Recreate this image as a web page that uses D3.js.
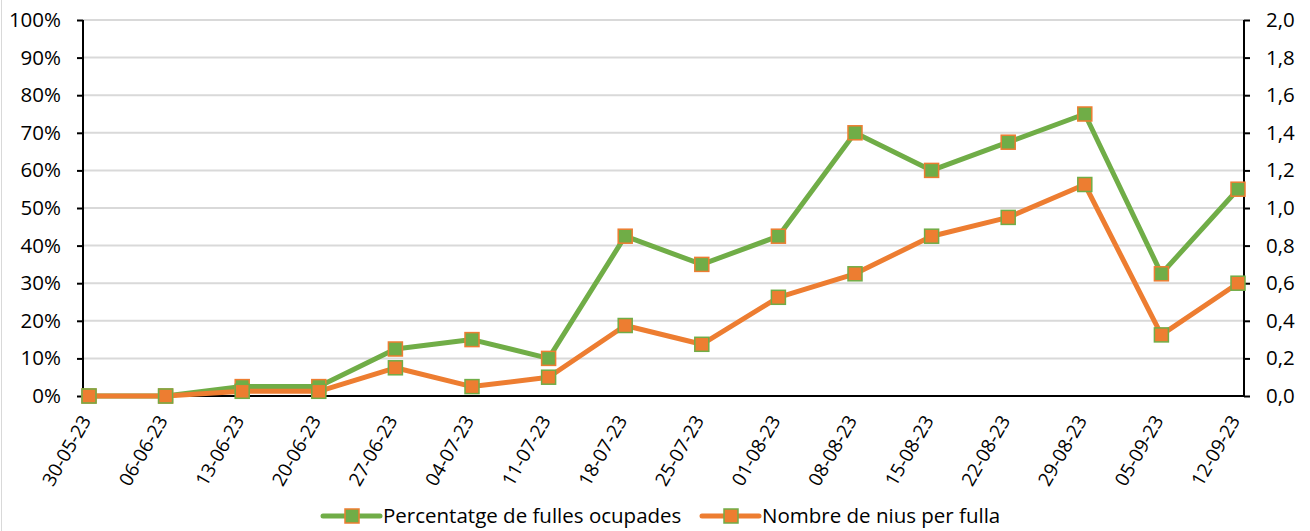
<!DOCTYPE html>
<html>
<head>
<meta charset="utf-8">
<script src="https://cdn.jsdelivr.net/npm/d3@7"></script>
<style>
  body { margin: 0; background: #fff; }
  svg text { font-family: "Open Sans", "Noto Sans", sans-serif; fill: #000; }
</style>
</head>
<body>
<svg id="chart"></svg>
<script>
const dates = ['30-05-23','06-06-23','13-06-23','20-06-23','27-06-23','04-07-23','11-07-23','18-07-23',
  '25-07-23','01-08-23','08-08-23','15-08-23','22-08-23','29-08-23','05-09-23','12-09-23'];
const pctOccupied = [0, 0, 0.025, 0.025, 0.125, 0.15, 0.10, 0.425, 0.35, 0.425, 0.70, 0.60, 0.675, 0.75, 0.325, 0.55];
const nestsPerLeaf = [0, 0, 0.025, 0.025, 0.15, 0.05, 0.10, 0.375, 0.275, 0.525, 0.65, 0.85, 0.95, 1.125, 0.325, 0.60];
const leftTicks = d3.range(0, 1.0001, 0.1);
const rightTicks = d3.range(0, 2.0001, 0.2);
const seriesNames = ['Percentatge de fulles ocupades', 'Nombre de nius per fulla'];

const width = 1310;
const height = 531;
const green = '#70ad47';
const orange = '#ed7d31';

const svg = d3.select('#chart')
  .attr('width', width)
  .attr('height', height);

// light frame on the left like the excel export
svg.append('line')
  .attr('x1', 1.5).attr('x2', 1.5)
  .attr('y1', 0).attr('y2', height)
  .style('stroke', '#d9d9d9');

const plotLeft = 83, plotRight = 1244, plotTop = 20, plotBottom = 396;

const x = d3.scalePoint()
  .domain(dates)
  .range([89, 1238]);

const yL = d3.scaleLinear().domain([0, 1]).range([plotBottom, plotTop]);
const yR = d3.scaleLinear().domain([0, 2]).range([plotBottom, plotTop]);

// gridlines
svg.append('g')
  .selectAll('line')
  .data(leftTicks.slice(1))
  .join('line')
  .attr('x1', plotLeft).attr('x2', plotRight)
  .attr('y1', d => yL(d)).attr('y2', d => yL(d))
  .style('stroke', '#d9d9d9')
  .style('stroke-width', 2);

const fmtPct = d => Math.round(d * 100) + '%';
const fmtComma = d => d.toFixed(1).replace('.', ',');

const axL = svg.append('g')
  .attr('transform', `translate(${plotLeft},0)`)
  .call(d3.axisLeft(yL).tickValues(leftTicks).tickFormat(fmtPct).tickSize(6).tickPadding(16));
const axR = svg.append('g')
  .attr('transform', `translate(${plotRight},0)`)
  .call(d3.axisRight(yR).tickValues(rightTicks).tickFormat(fmtComma).tickSize(6).tickPadding(16));

[axL, axR].forEach(ax => {
  ax.select('.domain').remove();
  ax.selectAll('line').style('stroke', '#000').style('stroke-width', 2);
  ax.selectAll('text').style('font-size', '20.5px');
});

// axis lines
svg.append('line')
  .attr('x1', plotLeft).attr('x2', plotLeft).attr('y1', plotTop).attr('y2', plotBottom)
  .style('stroke', '#000').style('stroke-width', 2);
svg.append('line')
  .attr('x1', plotRight).attr('x2', plotRight).attr('y1', plotTop).attr('y2', plotBottom)
  .style('stroke', '#000').style('stroke-width', 2);
svg.append('line')
  .attr('x1', plotLeft).attr('x2', plotRight).attr('y1', plotBottom).attr('y2', plotBottom)
  .style('stroke', '#000').style('stroke-width', 2);

// x labels
svg.append('g')
  .selectAll('text')
  .data(dates)
  .join('text')
  .attr('transform', d => `translate(${x(d) - 3},${plotBottom + 21}) rotate(-60)`)
  .attr('text-anchor', 'end')
  .attr('dy', '0.35em')
  .style('font-size', '19px')
  .text(d => d);

function drawSeries(values, y, lineColor, borderColor) {
  const line = d3.line()
    .x((d, i) => x(dates[i]))
    .y(d => y(d));
  svg.append('path')
    .datum(values)
    .attr('d', line)
    .style('fill', 'none')
    .style('stroke', lineColor)
    .style('stroke-width', 5)
    .style('stroke-linejoin', 'round');
  svg.append('g')
    .selectAll('rect')
    .data(values)
    .join('rect')
    .attr('x', (d, i) => x(dates[i]) - 7)
    .attr('y', d => y(d) - 7)
    .attr('width', 14)
    .attr('height', 14)
    .style('fill', lineColor)
    .style('stroke', borderColor)
    .style('stroke-width', 1.5);
}

drawSeries(pctOccupied, yL, green, orange);
drawSeries(nestsPerLeaf, yR, orange, green);

// legend
const legendItems = [
  { name: seriesNames[0], x: 323, color: green, border: orange },
  { name: seriesNames[1], x: 702, color: orange, border: green }
];
const lg = svg.append('g')
  .selectAll('g')
  .data(legendItems)
  .join('g')
  .attr('transform', d => `translate(${d.x},516)`);
lg.append('line')
  .attr('x1', 0).attr('x2', 57)
  .style('stroke', d => d.color)
  .style('stroke-width', 5)
  .style('stroke-linecap', 'round');
lg.append('rect')
  .attr('x', 22).attr('y', -7)
  .attr('width', 14).attr('height', 14)
  .style('fill', d => d.color)
  .style('stroke', d => d.border)
  .style('stroke-width', 1.5);
lg.append('text')
  .attr('x', 60)
  .attr('dy', '0.35em')
  .style('font-size', '20.5px')
  .text(d => d.name);
</script>
</body>
</html>
